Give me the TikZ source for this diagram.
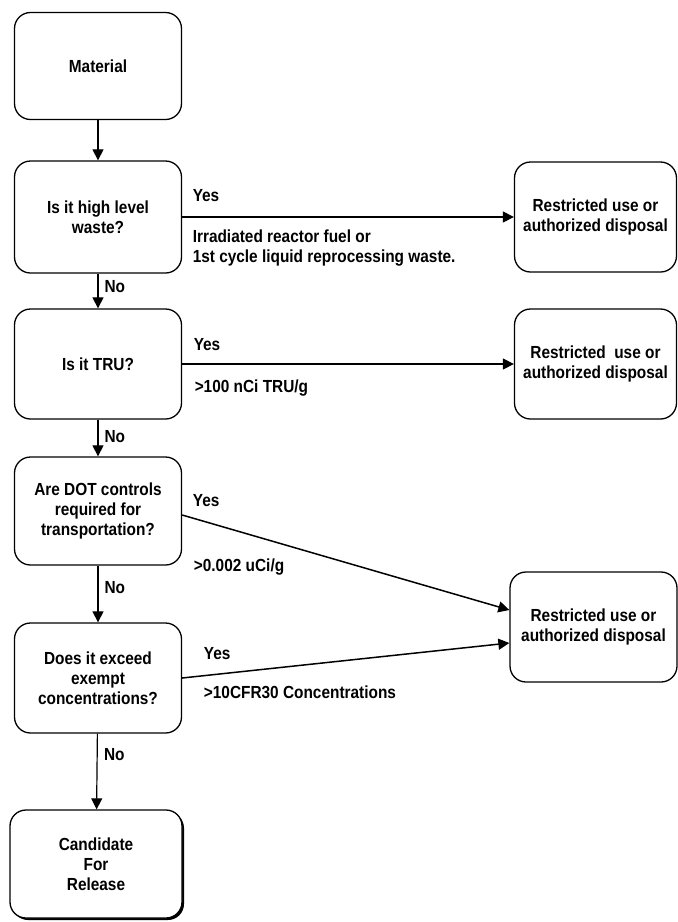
\documentclass[tikz,border=0pt]{standalone}
\usepackage{fontspec}
\setmainfont{Liberation Sans}[FakeStretch=0.88]
\usepackage{tikz}
\usetikzlibrary{arrows.meta, positioning, calc, shadows}

\begin{document}
\begin{tikzpicture}[
    x=1pt, y=-1pt,
    flowbox/.style={draw, line width=1.3pt, rounded corners=16pt, minimum width=167pt, minimum height=110pt, align=center, inner sep=2pt, font=\fontsize{17.5}{20}\selectfont\bfseries},
    outbox/.style={flowbox, minimum width=162pt},
    endbox/.style={drop shadow={shadow xshift=2pt, shadow yshift=-2pt, fill=black, opacity=1}, fill=white},
    flow/.style={-{Triangle[length=11pt,width=11pt]}, line width=1.2pt},
    no/.style={font=\fontsize{17.5}{20}\selectfont\bfseries, inner sep=0pt, anchor=north west, xshift=6pt},
    yes/.style={font=\fontsize{17.5}{20}\selectfont\bfseries, inner sep=0pt, anchor=south west},
    cond/.style={font=\fontsize{17.5}{20}\selectfont\bfseries, inner sep=0pt, anchor=north west, align=left}
]
    \useasboundingbox (0,0) rectangle (678,922);

    % Decision column
    \node[flowbox, minimum height=107pt] (material) at (98,66) {Material};
    \node[flowbox, minimum height=112pt] (highlevel) at (98,217) {Is it high level\\waste?};
    \node[flowbox] (tru) at (98,364) {Is it TRU?};
    \node[flowbox, minimum height=108pt] (dot) at (98,511) {Are DOT controls\\required for\\transportation?};
    \node[flowbox] (exceed) at (98,678) {Does it exceed\\exempt\\concentrations?};
    \node[flowbox, endbox, minimum width=172pt, minimum height=108pt] (release) at (96,864) {Candidate\\For\\Release};

    % Disposal boxes
    \node[outbox] (disp1) at (595.5,217) {Restricted use or\\authorized disposal};
    \node[outbox] (disp2) at (595.5,364) {Restricted\ \ use or\\authorized disposal};
    \node[outbox, minimum width=167pt] (disp3) at (593.5,627) {Restricted use or\\authorized disposal};

    % No branches
    \draw[flow] (material) -- (highlevel);
    \draw[flow] (highlevel) -- node[no, pos=0, yshift=-6pt] {No} (tru);
    \draw[flow] (tru) -- node[no, pos=0, yshift=-10pt] {No} (dot);
    \draw[flow] (dot) -- node[no, pos=0, yshift=-15pt] {No} (exceed);
    \draw[flow] (exceed) -- node[no, pos=0, yshift=-14pt] {No} (release);

    % Yes branches
    \draw[flow] (highlevel.east) -- node[yes, pos=0, xshift=10pt, yshift=15pt] {Yes}
        node[cond, pos=0, xshift=10pt, yshift=-12pt] {Irradiated reactor fuel or\\1st cycle liquid reprocessing waste.} (disp1.west);
    \draw[flow] (tru.east) -- node[yes, pos=0, xshift=11pt, yshift=13pt] {Yes}
        node[cond, pos=0, xshift=12pt, yshift=-15pt] {>100 nCi TRU/g} (disp2.west);
    \draw[flow, line width=1.5pt] ([yshift=-4pt]dot.east) -- node[yes, pos=0, xshift=10pt, yshift=8pt] {Yes}
        node[cond, pos=0, xshift=11pt, yshift=-43pt] {>0.002 uCi/g} ([yshift=17pt]disp3.west);
    \draw[flow, line width=1.5pt] (exceed.east) -- node[yes, pos=0, xshift=21pt, yshift=18pt] {Yes}
        node[cond, pos=0, xshift=21pt, yshift=-7pt] {>10CFR30 Concentrations} ([yshift=-16pt]disp3.west);
\end{tikzpicture}
\end{document}
